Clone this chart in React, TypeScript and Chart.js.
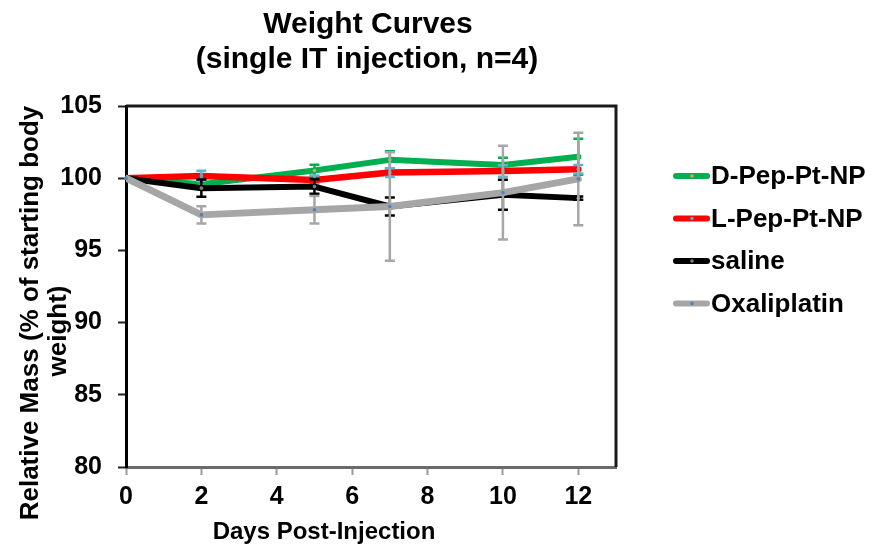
import React, { useEffect, useRef } from 'react';
import { Chart, registerables } from 'chart.js';

Chart.register(...registerables);

const FONT = "'Liberation Sans', Arial, Helvetica, sans-serif";

const days = [0, 2, 5, 7, 10, 12];
const xTickValues = [0, 2, 4, 6, 8, 10, 12];
const yTickValues = [80, 85, 90, 95, 100, 105];

const seriesNames = ['D-Pep-Pt-NP', 'L-Pep-Pt-NP', 'saline', 'Oxaliplatin'];

const dPep = [100, 99.58, 100.53, 101.27, 100.92, 101.49];
const dPepErr = [0, 0.3, 0.4, 0.6, 0.5, 1.25];
const lPep = [100, 100.16, 99.88, 100.39, 100.5, 100.62];
const lPepErr = [0, 0.35, 0.3, 0.3, 0.4, 0.3];
const saline = [100, 99.31, 99.42, 98.04, 98.85, 98.62];
const salineErr = [0, 0.6, 0.5, 0.62, 1.04, 0.12];
const oxaliplatin = [100, 97.46, 97.81, 98.04, 99.0, 99.95];
const oxaliplatinErr = [0, 0.6, 0.95, 3.75, 3.25, 3.2];

const valueSets = [dPep, lPep, saline, oxaliplatin];
const errorSets = [dPepErr, lPepErr, salineErr, oxaliplatinErr];
const lineColors = ['#00B050', '#FF0000', '#000000', '#A6A6A6'];
const markerColors = ['#F79646', '#4BACC6', '#7F7F7F', '#4F81BD'];
const errColors = ['#00B050', '#5BB5D5', '#000000', '#A6A6A6'];
const lineWidths = [6, 6.5, 6, 7];
const drawOrder = [3, 2, 1, 0];

const titleLines = ['Weight Curves', '(single IT injection, n=4)'];
const yTitleLines = ['Relative Mass (% of starting body', 'weight)'];
const xTitle = 'Days Post-Injection';

const errorBarPlugin = {
  id: 'errorBars',
  afterDatasetDraw(chart: any, args: any) {
    const i = args.index;
    const meta = args.meta;
    const errs = errorSets[i];
    const vals = valueSets[i];
    const ctx = chart.ctx;
    const ys = chart.scales.y;
    ctx.save();
    ctx.strokeStyle = errColors[i];
    ctx.lineWidth = 2.5;
    meta.data.forEach((pt: any, j: number) => {
      const e = errs[j];
      if (!e) return;
      const yt = ys.getPixelForValue(vals[j] + e);
      const yb = ys.getPixelForValue(vals[j] - e);
      ctx.beginPath();
      ctx.moveTo(pt.x, yt);
      ctx.lineTo(pt.x, yb);
      ctx.moveTo(pt.x - 5, yt);
      ctx.lineTo(pt.x + 5, yt);
      ctx.moveTo(pt.x - 5, yb);
      ctx.lineTo(pt.x + 5, yb);
      ctx.stroke();
    });
    meta.data.forEach((pt: any) => {
      ctx.beginPath();
      ctx.fillStyle = markerColors[i];
      ctx.arc(pt.x, pt.y, 1.8, 0, Math.PI * 2);
      ctx.fill();
    });
    ctx.restore();
  },
};

const framePlugin = {
  id: 'frame',
  beforeDatasetsDraw(chart: any) {
    const { ctx, chartArea } = chart;
    ctx.save();
    ctx.strokeStyle = '#1a1a1a';
    ctx.lineWidth = 3;
    ctx.beginPath();
    ctx.moveTo(chartArea.left, chartArea.top);
    ctx.lineTo(chartArea.right, chartArea.top);
    ctx.lineTo(chartArea.right, chartArea.bottom);
    ctx.stroke();
    ctx.restore();
  },
};

const textPlugin = {
  id: 'texts',
  afterDraw(chart: any) {
    const ctx = chart.ctx;
    ctx.save();
    ctx.fillStyle = '#000';
    // Title
    ctx.font = `bold 30px ${FONT}`;
    ctx.textAlign = 'center';
    ctx.textBaseline = 'alphabetic';
    ctx.fillText(titleLines[0], 368, 33);
    ctx.fillText(titleLines[1], 367, 68);
    // X title
    ctx.font = `bold 24px ${FONT}`;
    ctx.fillText(xTitle, 324, 539);
    // Y title
    ctx.font = `bold 26px ${FONT}`;
    ctx.save();
    ctx.translate(38, 313);
    ctx.rotate(-Math.PI / 2);
    ctx.fillText(yTitleLines[0], 0, 0);
    ctx.restore();
    ctx.save();
    ctx.translate(66, 331);
    ctx.rotate(-Math.PI / 2);
    ctx.fillText(yTitleLines[1], 0, 0);
    ctx.restore();
    // Legend
    const rows = [176, 218.5, 261, 303.5];
    ctx.font = `bold 26px ${FONT}`;
    ctx.textAlign = 'left';
    ctx.textBaseline = 'middle';
    seriesNames.forEach((name, i) => {
      const y = rows[i];
      ctx.strokeStyle = lineColors[i];
      ctx.lineWidth = 6;
      ctx.lineCap = 'round';
      ctx.beginPath();
      ctx.moveTo(676, y);
      ctx.lineTo(707, y);
      ctx.stroke();
      ctx.fillStyle = markerColors[i];
      ctx.beginPath();
      ctx.arc(692, y, 1.8, 0, Math.PI * 2);
      ctx.fill();
      ctx.fillStyle = '#000';
      ctx.fillText(name, 711, y + 1);
    });
    ctx.restore();
  },
};

export default function App() {
  const canvasRef = useRef<HTMLCanvasElement | null>(null);

  useEffect(() => {
    if (!canvasRef.current) return;
    const datasets = seriesNames.map((name, i) => ({
      label: name,
      data: days.map((d, j) => ({ x: d, y: valueSets[i][j] })),
      borderColor: lineColors[i],
      backgroundColor: lineColors[i],
      borderWidth: lineWidths[i],
      borderJoinStyle: 'round' as const,
      borderCapStyle: 'round' as const,
      pointRadius: 0,
      pointHoverRadius: 0,
      tension: 0,
      fill: false,
      order: drawOrder[i],
    }));

    const chart = new Chart(canvasRef.current, {
      type: 'line',
      data: { datasets },
      options: {
        animation: false,
        responsive: true,
        maintainAspectRatio: false,
        layout: { padding: { top: 106, right: 257, left: 0, bottom: 0 } },
        plugins: {
          legend: { display: false },
          title: { display: false },
          tooltip: { enabled: false },
        },
        scales: {
          x: {
            type: 'linear',
            min: 0,
            max: 13,
            afterBuildTicks: (scale: any) => {
              scale.ticks = xTickValues.map((v) => ({ value: v }));
            },
            afterFit: (scale: any) => {
              scale.height = 77;
            },
            grid: {
              display: true,
              drawOnChartArea: false,
              drawTicks: true,
              tickLength: 8,
              tickColor: '#9a9a9a',
              tickWidth: 2,
            },
            border: { display: true, color: '#6b6b6b', width: 3 },
            ticks: {
              color: '#000',
              font: { family: FONT, size: 25, weight: 'bold' },
              padding: 7,
              maxRotation: 0,
            },
          },
          y: {
            type: 'linear',
            min: 80,
            max: 105,
            afterBuildTicks: (scale: any) => {
              scale.ticks = yTickValues.map((v) => ({ value: v }));
            },
            afterFit: (scale: any) => {
              scale.width = 126;
            },
            grid: {
              display: true,
              drawOnChartArea: false,
              drawTicks: true,
              tickLength: 8,
              tickColor: '#222',
              tickWidth: 2,
            },
            border: { display: true, color: '#000', width: 3 },
            ticks: {
              color: '#000',
              font: { family: FONT, size: 25, weight: 'bold' },
              padding: 16,
            },
          },
        },
      },
      plugins: [framePlugin, errorBarPlugin, textPlugin],
    });
    return () => chart.destroy();
  }, []);

  return (
    <div style={{ position: 'fixed', left: 0, top: 0, width: 873, height: 544, background: '#fff' }}>
      <canvas ref={canvasRef} />
    </div>
  );
}
